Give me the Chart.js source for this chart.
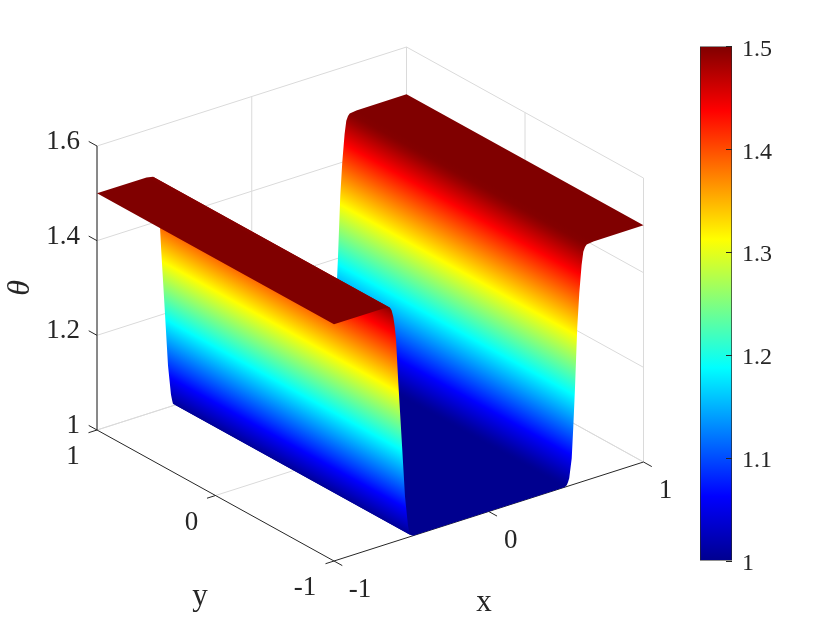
<!DOCTYPE html>
<html>
<head>
<meta charset="utf-8">
<script src="https://cdn.jsdelivr.net/npm/chart.js@4"></script>
<style>
html,body{margin:0;padding:0;background:#fff;width:840px;height:630px;overflow:hidden}
canvas{position:absolute}
</style>
</head>
<body>
<canvas id="main" width="840" height="630" style="left:0;top:0;width:840px;height:630px"></canvas>
<canvas id="bar" width="120" height="547" style="left:690px;top:30px;width:120px;height:547px"></canvas>
<script>
// ---- Data ----
const profileX = [-1,-0.68,-0.638,-0.628,-0.617,-0.607,-0.599,-0.5845,-0.5625,-0.541,-0.522,-0.514,-0.509,-0.49,0.49,0.504,0.512,0.52,0.536,0.546,0.557,0.572,0.585,0.6,0.611,0.622,0.633,0.676,1];
const profileTheta = [1.5,1.5,1.497,1.491,1.476,1.453,1.425,1.333,1.21,1.088,1.025,1.011,1.004,1,1,1.003,1.008,1.016,1.056,1.12,1.2,1.33,1.4,1.458,1.485,1.494,1.498,1.5,1.5];
const yEnds = [-1,1];
const xTicks = [-1,0,1];
const yTicks = [-1,0,1];
const zTicks = [1,1.2,1.4,1.6];
const barTicks = [1,1.1,1.2,1.3,1.4,1.5];
const colorRange = [1,1.5];
const jetPos = [0,0.125,0.375,0.625,0.875,1];
const jetRGB = [[0,0,143],[0,0,255],[0,255,255],[255,255,0],[255,0,0],[128,0,0]];

// ---- Projection of the 3-D box onto the flat view ----
const view = {ox:334, oy:561, xu:[154.75,-49.5], yu:[-118.5,-65.5], zu:473.3};
function project(x,y,z){
  return {x: view.ox + (x+1)*view.xu[0] + (y+1)*view.yu[0],
          y: view.oy + (x+1)*view.xu[1] + (y+1)*view.yu[1] - (z-1)*view.zu};
}
const FONT = '"Liberation Serif","Times New Roman",serif';
const INK = '#262626', GRID = '#dadada';

function jetAt(t){
  t = Math.min(1,Math.max(0,t));
  let i = 0;
  while(i < jetPos.length-2 && t > jetPos[i+1]) i++;
  const f = (t-jetPos[i])/(jetPos[i+1]-jetPos[i]);
  const c = jetRGB[i].map((v,k)=>Math.round(v+(jetRGB[i+1][k]-v)*f));
  return 'rgb('+c.join(',')+')';
}
const toT = th => (th-colorRange[0])/(colorRange[1]-colorRange[0]);

// ---- Datasets ----
function seg(a,b,color,order){
  return {data:[project(...a),project(...b)],showLine:true,borderColor:color,borderWidth:1,pointRadius:0,order:order};
}
const datasets = [];
const zMin = zTicks[0], zMax = zTicks[zTicks.length-1];
const g = 5000;
zTicks.forEach(z=>{
  datasets.push(seg([-1,1,z],[1,1,z],GRID,g));
  datasets.push(seg([1,1,z],[1,-1,z],GRID,g));
});
xTicks.forEach(x=>{
  datasets.push(seg([x,1,zMin],[x,1,zMax],GRID,g));
  if(x!==-1) datasets.push(seg([x,-1,zMin],[x,1,zMin],GRID,g));
});
yTicks.forEach(y=>{
  datasets.push(seg([1,y,zMin],[1,y,zMax],GRID,g));
  if(y!==-1) datasets.push(seg([-1,y,zMin],[1,y,zMin],GRID,g));
});
const a = 4000;
datasets.push(seg([-1,1,zMin],[-1,1,zMax],INK,a));
datasets.push(seg([-1,-1,zMin],[-1,1,zMin],INK,a));
datasets.push(seg([-1,-1,zMin],[1,-1,zMin],INK,a));
zTicks.forEach(z=>datasets.push(seg([-1,1,z],[-1,1.07,z],INK,a)));
yTicks.forEach(y=>datasets.push(seg([-1,y,zMin],[-1.055,y,zMin],INK,a)));
xTicks.forEach(x=>datasets.push(seg([x,-1,zMin],[x,-1.07,zMin],INK,a)));

// Surface: the profile runs along x and is swept along y. It is split where it folds
// in the view, and each unfolded sheet becomes one closed outline dataset.
const sheetStarts = [0];
{
  const across = i => {
    const p = project(profileX[i],yEnds[0],profileTheta[i]), q = project(profileX[i+1],yEnds[0],profileTheta[i+1]);
    return (q.x-p.x)*view.yu[1]*-1 + (q.y-p.y)*view.yu[0];
  };
  for(let i=1;i<profileX.length-1;i++){
    if(Math.sign(across(i))!==Math.sign(across(i-1))) sheetStarts.push(i);
  }
}
sheetStarts.forEach((s,k)=>{
  const e = k+1<sheetStarts.length ? sheetStarts[k+1] : profileX.length-1;
  const idx = []; for(let i=s;i<=e;i++) idx.push(i);
  datasets.push({
    sheet:true,
    thetas: idx.map(i=>profileTheta[i]),
    data: idx.map(i=>project(profileX[i],yEnds[0],profileTheta[i]))
      .concat(idx.slice().reverse().map(i=>project(profileX[i],yEnds[1],profileTheta[i]))),
    pointRadius:0, showLine:false, order:100+k   // larger x is farther: painted first
  });
});

// ---- Painter for the surface sheets ----
const sheetPainter = {
  id:'sheetPainter',
  beforeDatasetDraw(chart,args){
    const ds = chart.data.datasets[args.index];
    if(!ds.sheet) return;
    const p = args.meta.data, ctx = chart.ctx, n = ds.thetas.length;
    const dx = p[2*n-1].x-p[0].x, dy = p[2*n-1].y-p[0].y, len = Math.hypot(dx,dy);
    const nx = -dy/len, ny = dx/len;
    const along = q => (q.x-p[0].x)*nx + (q.y-p[0].y)*ny;
    const total = along(p[n-1]);
    const paint = ctx.createLinearGradient(p[0].x,p[0].y,p[0].x+nx*total,p[0].y+ny*total);
    for(let i=0;i<n;i++){
      const o = along(p[i])/total, t = toT(ds.thetas[i]);
      paint.addColorStop(Math.min(1,Math.max(0,o)),jetAt(t));
      if(i<n-1){
        const o2 = along(p[i+1])/total, t2 = toT(ds.thetas[i+1]);
        jetPos.forEach(k=>{
          const f = (k-t)/(t2-t);
          if(t!==t2 && f>0 && f<1) paint.addColorStop(Math.min(1,Math.max(0,o+(o2-o)*f)),jetAt(k));
        });
      }
    }
    ctx.save();
    ctx.beginPath();
    p.forEach((q,i)=> i? ctx.lineTo(q.x,q.y):ctx.moveTo(q.x,q.y));
    ctx.closePath();
    ctx.fillStyle = paint;
    ctx.fill();
    ctx.restore();
    return false;
  },
  afterDraw(chart){
    const ctx = chart.ctx, sx = chart.scales.x, sy = chart.scales.y;
    const put = (p,dx,dy,s,align)=>{
      ctx.textAlign = align||'center';
      ctx.fillText(s,sx.getPixelForValue(p.x)+dx,sy.getPixelForValue(p.y)+dy);
    };
    ctx.save();
    ctx.fillStyle = INK; ctx.textBaseline = 'middle';
    ctx.font = '27px '+FONT;
    zTicks.forEach(z=>put(project(-1,1,z),-17,-4,String(z),'right'));
    yTicks.forEach(y=>put(project(-1,y,zMin),y===-1?-29:-24,27,String(y)));
    xTicks.forEach(x=>put(project(x,-1,zMin),x===-1?26:22,29,String(x)));
    ctx.font = '31px '+FONT;
    ctx.textAlign = 'center';
    ctx.fillText('y',200,597);
    ctx.fillText('x',484,603);
    ctx.translate(21,288);
    ctx.rotate(-Math.PI/2);
    ctx.font = 'italic 32px '+FONT;
    ctx.fillText('\u03B8',0,0);
    ctx.restore();
  }
};

new Chart(document.getElementById('main'),{
  type:'scatter',
  data:{datasets:datasets},
  options:{
    responsive:false, animation:false, events:[],
    layout:{padding:0},
    plugins:{legend:{display:false},tooltip:{enabled:false}},
    scales:{
      x:{type:'linear',min:0,max:840,display:false},
      y:{type:'linear',min:0,max:630,reverse:true,display:false}
    }
  },
  plugins:[sheetPainter]
});

// ---- Colour bar ----
const barTickMarks = {
  id:'barTickMarks',
  afterDatasetsDraw(chart){
    const ctx = chart.ctx, s = chart.scales.y, r = chart.chartArea.right;
    ctx.save();
    ctx.strokeStyle = INK; ctx.lineWidth = 1;
    barTicks.forEach(v=>{
      const y = Math.round(s.getPixelForValue(v))+0.5;
      ctx.beginPath(); ctx.moveTo(r-6,y); ctx.lineTo(r,y); ctx.stroke();
    });
    ctx.restore();
  }
};
new Chart(document.getElementById('bar'),{
  type:'bar',
  data:{labels:['\u03B8'],datasets:[{
    data:[colorRange],
    borderColor:INK,borderWidth:1,borderSkipped:false,
    barPercentage:1,categoryPercentage:1,
    backgroundColor(c){
      const area = c.chart.chartArea;
      if(!area) return jetAt(0);
      const gr = c.chart.ctx.createLinearGradient(0,area.bottom,0,area.top);
      jetPos.forEach(k=>gr.addColorStop(k,jetAt(k)));
      return gr;
    }
  }]},
  options:{
    responsive:false, animation:false, events:[],
    layout:{padding:{left:10,top:9,bottom:10,right:0}},
    plugins:{legend:{display:false},tooltip:{enabled:false}},
    scales:{
      x:{display:false},
      y:{
        position:'right',min:colorRange[0],max:colorRange[1],
        afterFit(s){s.width=78;},
        border:{display:false},
        grid:{display:false},
        afterBuildTicks(s){s.ticks=barTicks.map(v=>({value:v}));},
        ticks:{
          color:INK,padding:2,labelOffset:3,
          font:{family:FONT,size:24},
          callback:v=>String(v)
        }
      }
    }
  },
  plugins:[barTickMarks]
});
</script>
</body>
</html>
